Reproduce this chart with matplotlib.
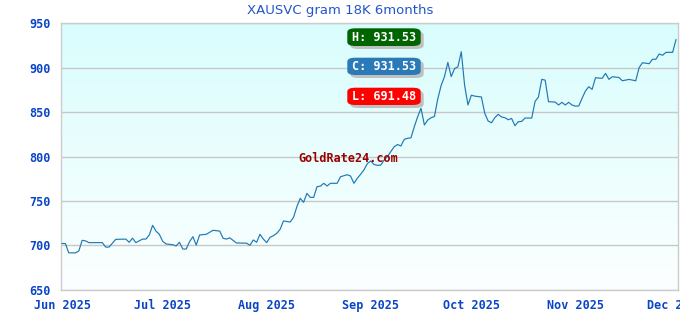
import matplotlib
matplotlib.use("Agg")
import matplotlib.pyplot as plt
import matplotlib.dates as mdates
from matplotlib.patches import FancyBboxPatch
import numpy as np
import pandas as pd

title = "XAUSVC gram 18K 6months"

dates = [
    "2025-06-01", "2025-06-02", "2025-06-03", "2025-06-05", "2025-06-06", "2025-06-07",
    "2025-06-08", "2025-06-09", "2025-06-13", "2025-06-14", "2025-06-15", "2025-06-17",
    "2025-06-20", "2025-06-21", "2025-06-22", "2025-06-23", "2025-06-25", "2025-06-26",
    "2025-06-27", "2025-06-28", "2025-06-29", "2025-06-30",
    "2025-07-01", "2025-07-02", "2025-07-04", "2025-07-05", "2025-07-06", "2025-07-07",
    "2025-07-08", "2025-07-09", "2025-07-10", "2025-07-11", "2025-07-12", "2025-07-14",
    "2025-07-16", "2025-07-18", "2025-07-19", "2025-07-20", "2025-07-21", "2025-07-23",
    "2025-07-26", "2025-07-27", "2025-07-28", "2025-07-29", "2025-07-30", "2025-07-31",
    "2025-08-01", "2025-08-02", "2025-08-03", "2025-08-04", "2025-08-05", "2025-08-06",
    "2025-08-08", "2025-08-09", "2025-08-10", "2025-08-11", "2025-08-12", "2025-08-13",
    "2025-08-14", "2025-08-15", "2025-08-16", "2025-08-17", "2025-08-18", "2025-08-19",
    "2025-08-20", "2025-08-22", "2025-08-23", "2025-08-25", "2025-08-26", "2025-08-27",
    "2025-08-28", "2025-08-29", "2025-08-30", "2025-08-31",
    "2025-09-01", "2025-09-02", "2025-09-03", "2025-09-04", "2025-09-05", "2025-09-06",
    "2025-09-07", "2025-09-08", "2025-09-09", "2025-09-10", "2025-09-11", "2025-09-12",
    "2025-09-13", "2025-09-14", "2025-09-15", "2025-09-16", "2025-09-17", "2025-09-18",
    "2025-09-19", "2025-09-20", "2025-09-21", "2025-09-22", "2025-09-23", "2025-09-24",
    "2025-09-25", "2025-09-26", "2025-09-27", "2025-09-28", "2025-09-29", "2025-09-30",
    "2025-10-01", "2025-10-02", "2025-10-04", "2025-10-05", "2025-10-06", "2025-10-07",
    "2025-10-08", "2025-10-09", "2025-10-10", "2025-10-11", "2025-10-12", "2025-10-13",
    "2025-10-14", "2025-10-15", "2025-10-16", "2025-10-17", "2025-10-19", "2025-10-20",
    "2025-10-21", "2025-10-22", "2025-10-23", "2025-10-24", "2025-10-26", "2025-10-27",
    "2025-10-28", "2025-10-29", "2025-10-30", "2025-10-31",
    "2025-11-01", "2025-11-02", "2025-11-03", "2025-11-04", "2025-11-05", "2025-11-06",
    "2025-11-07", "2025-11-09", "2025-11-10", "2025-11-11", "2025-11-12", "2025-11-14",
    "2025-11-15", "2025-11-17", "2025-11-19", "2025-11-20", "2025-11-21", "2025-11-22",
    "2025-11-23", "2025-11-24", "2025-11-25", "2025-11-26", "2025-11-27", "2025-11-28",
    "2025-11-30", "2025-12-01",
]

prices = [
    702, 702, 691.48, 691.48, 693.6, 705.6,
    705, 703, 703, 698, 698, 706.7,
    707, 703.4, 708, 703, 707, 707,
    711.6, 722.5, 716, 712.4,
    704.5, 701.5, 700.7, 699.2, 703.4, 695.8,
    695.8, 704, 709.7, 700.3, 711.6, 712.4,
    716.9, 716, 707.9, 707, 708.4, 702.6,
    702.4, 700, 706, 703.4, 712.4, 707,
    703, 709, 710.8, 713.5, 718, 727.4,
    726.2, 731.5, 743.5, 752.9, 748.4, 758.5,
    754, 754, 766, 766.6, 769.8, 766.8,
    769.8, 769.8, 777.2, 779.5, 778, 769.8,
    775.4, 780, 785, 792,
    795, 791, 790, 790.4, 796, 800,
    805.4, 811, 813.5, 811.8, 819.3, 820.5,
    821, 833.5, 844.8, 854.3, 835.5, 841,
    843.7, 845, 865, 880, 890, 906,
    890, 899, 901, 918, 880, 858,
    869, 868, 867, 848.6, 840, 838,
    843.7, 847.5, 844.5, 843.7, 841.4, 842.9,
    834.7, 839.2, 839.5, 843.3, 843.3, 862,
    867, 886.9, 886, 861.7, 861.3, 858,
    861, 858, 861, 858,
    856.8, 856.8, 865.5, 873.7, 878.6, 875.6,
    888.7, 888, 893.6, 886.9, 889.8, 889,
    885.3, 886.8, 885.3, 900, 905.6, 905,
    904.5, 909.5, 909.5, 915.4, 914, 917.3,
    917.3, 931.53,
]

y_ticks = [650, 700, 750, 800, 850, 900, 950]
x_tick_dates = ["2025-06-01", "2025-07-01", "2025-08-01", "2025-09-01",
                "2025-10-01", "2025-11-01", "2025-12-01"]
x_tick_labels = ["Jun 2025", "Jul 2025", "Aug 2025", "Sep 2025",
                 "Oct 2025", "Nov 2025", "Dec 2025"]

high_label = "H: 931.53"
close_label = "C: 931.53"
low_label = "L: 691.48"
watermark = "GoldRate24.com"

W, H = 680, 320
fig = plt.figure(figsize=(W / 100, H / 100), dpi=100)
fig.patch.set_facecolor("white")

ax_l, ax_r, ax_t, ax_b = 60.7, 678, 23.3, 289.7
ax = fig.add_axes([ax_l / W, 1 - ax_b / H, (ax_r - ax_l) / W, (ax_b - ax_t) / H])

x = pd.to_datetime(dates)
xn = mdates.date2num(x)

# gradient background
grad = np.linspace(0, 1, 256).reshape(-1, 1)
top = np.array([217, 253, 253]) / 255.0
bot = np.array([252, 255, 255]) / 255.0
img = top[None, None, :] * (1 - grad[:, :, None]) + bot[None, None, :] * grad[:, :, None]
ax.imshow(img, extent=[0, 1, 0, 1], transform=ax.transAxes, aspect="auto", zorder=0)

ax.plot(xn, prices, color="#1f78b4", lw=0.85, zorder=3)

ax.set_ylim(650, 950)
ax.set_xlim(mdates.date2num(pd.Timestamp("2025-06-01")) - 0.4,
            mdates.date2num(pd.Timestamp("2025-12-01")) + 0.6)
ax.set_yticks(y_ticks)
ax.set_xticks(mdates.date2num(pd.to_datetime(x_tick_dates)))
ax.set_xticklabels(x_tick_labels)

for lab in ax.get_xticklabels() + ax.get_yticklabels():
    lab.set_fontfamily("DejaVu Sans Mono")
    lab.set_fontweight("bold")
    lab.set_fontsize(8.5)
    lab.set_color("#0a45c8")
ax.tick_params(axis="both", length=0)
ax.tick_params(axis="y", pad=7)
ax.tick_params(axis="x", pad=7)

ax.grid(axis="y", color="#c8c8c8", lw=1, zorder=1)
ax.grid(axis="x", visible=False)
for s in ax.spines.values():
    s.set_color("#cccccc")
    s.set_linewidth(1)
ax.set_axisbelow(True)

fig.text(340 / W, 1 - 10.5 / H, title, ha="center", va="center",
         fontsize=9.5, color="#2255cc", family="DejaVu Sans")

# labelled boxes
boxes = [(high_label, "#006400", 28.3, 46.0),
         (close_label, "#2a7ab8", 57.7, 75.0),
         (low_label, "#ff0000", 87.7, 105.0)]
bx0, bx1 = 347.3, 420.7
for text, col, y0, y1 in boxes:
    for dx, dy, c, z in [(3, 3, "#c0c0c0", 5), (0, 0, col, 6)]:
        p = FancyBboxPatch(((bx0 + dx) / W, 1 - (y1 + dy) / H),
                           (bx1 - bx0) / W, (y1 - y0) / H,
                           boxstyle="round,pad=0,rounding_size=0.012",
                           transform=fig.transFigure, facecolor=c,
                           edgecolor="none", zorder=z)
        fig.patches.append(p)
    fig.text((bx0 + bx1) / 2 / W, 1 - (y0 + y1) / 2 / H, text,
             ha="center", va="center", color="white", family="DejaVu Sans Mono",
             weight="bold", fontsize=8.5, zorder=7)

fig.text(348.5 / W, 1 - 158.5 / H, watermark, ha="center", va="center",
         color="#990000", family="DejaVu Sans Mono", weight="bold",
         fontsize=8.5, zorder=8)

fig.savefig("out.png", dpi=100)
